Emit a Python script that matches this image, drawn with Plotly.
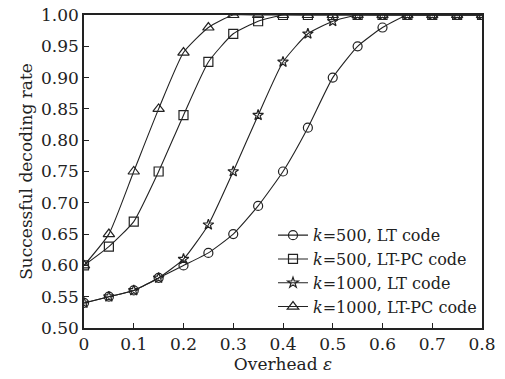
import plotly.graph_objects as go

overhead = [0, 0.05, 0.1, 0.15, 0.2, 0.25, 0.3, 0.35, 0.4, 0.45, 0.5, 0.55, 0.6, 0.65, 0.7, 0.75, 0.8]
k500_lt = [0.54, 0.55, 0.56, 0.58, 0.60, 0.62, 0.65, 0.695, 0.75, 0.82, 0.90, 0.95, 0.98, 1.0, 1.0, 1.0, 1.0]
k500_ltpc = [0.60, 0.63, 0.67, 0.75, 0.84, 0.925, 0.97, 0.99, 1.0, 1.0, 1.0, 1.0, 1.0, 1.0, 1.0, 1.0, 1.0]
k1000_lt = [0.54, 0.55, 0.56, 0.58, 0.61, 0.665, 0.75, 0.84, 0.925, 0.97, 0.99, 1.0, 1.0, 1.0, 1.0, 1.0, 1.0]
k1000_ltpc = [0.60, 0.65, 0.75, 0.85, 0.94, 0.98, 1.0, 1.0, 1.0, 1.0, 1.0, 1.0, 1.0, 1.0, 1.0, 1.0, 1.0]

names = ["<i>k</i>=500, LT code", "<i>k</i>=500, LT-PC code",
         "<i>k</i>=1000, LT code", "<i>k</i>=1000, LT-PC code"]
series = [k500_lt, k500_ltpc, k1000_lt, k1000_ltpc]
symbols = ["circle-open", "square-open", "star-open", "triangle-up-open"]
sizes = [9, 9, 8, 10]

FONT = "DejaVu Serif"
fig = go.Figure()
for name, ys, sym, sz in zip(names, series, symbols, sizes):
    fig.add_trace(go.Scatter(
        x=overhead, y=ys, name=name, mode="lines+markers",
        line=dict(color="#222", width=1.1, shape="spline", smoothing=0.5),
        marker=dict(symbol=sym, size=sz, color="#222", line=dict(width=1.2, color="#222")),
    ))

fig.update_layout(
    width=505, height=379,
    margin=dict(l=84, r=23, t=15, b=51),
    paper_bgcolor="white", plot_bgcolor="white",
    font=dict(family=FONT, size=17, color="#222"),
    showlegend=True,
    legend=dict(x=1.0, y=0.012, xanchor="right", yanchor="bottom",
                bgcolor="rgba(0,0,0,0)", font=dict(family=FONT, size=16),
                tracegroupgap=0, itemwidth=30),
)
fig.update_xaxes(
    range=[0, 0.8], tickvals=[0, 0.1, 0.2, 0.3, 0.4, 0.5, 0.6, 0.7, 0.8],
    ticktext=["0", "0.1", "0.2", "0.3", "0.4", "0.5", "0.6", "0.7", "0.8"],
    ticks="inside", ticklen=5, tickcolor="#222",
    showline=True, linecolor="#222", linewidth=1.5, mirror=True,
    showgrid=False, zeroline=False, automargin=False,
    title=dict(text="Overhead <i>ε</i>", standoff=2, font=dict(size=17)),
)
fig.update_yaxes(
    range=[0.5, 1.0], dtick=0.05, tickformat=".2f",
    ticks="inside", ticklen=5, tickcolor="#222",
    showline=True, linecolor="#222", linewidth=1.5, mirror=True,
    showgrid=False, zeroline=False, automargin=False,
    title=dict(text="Successful decoding rate", standoff=4, font=dict(size=17)),
)
fig.write_html("out.html", post_script="document.body.style.margin='0';",
               config={"displayModeBar": False})
